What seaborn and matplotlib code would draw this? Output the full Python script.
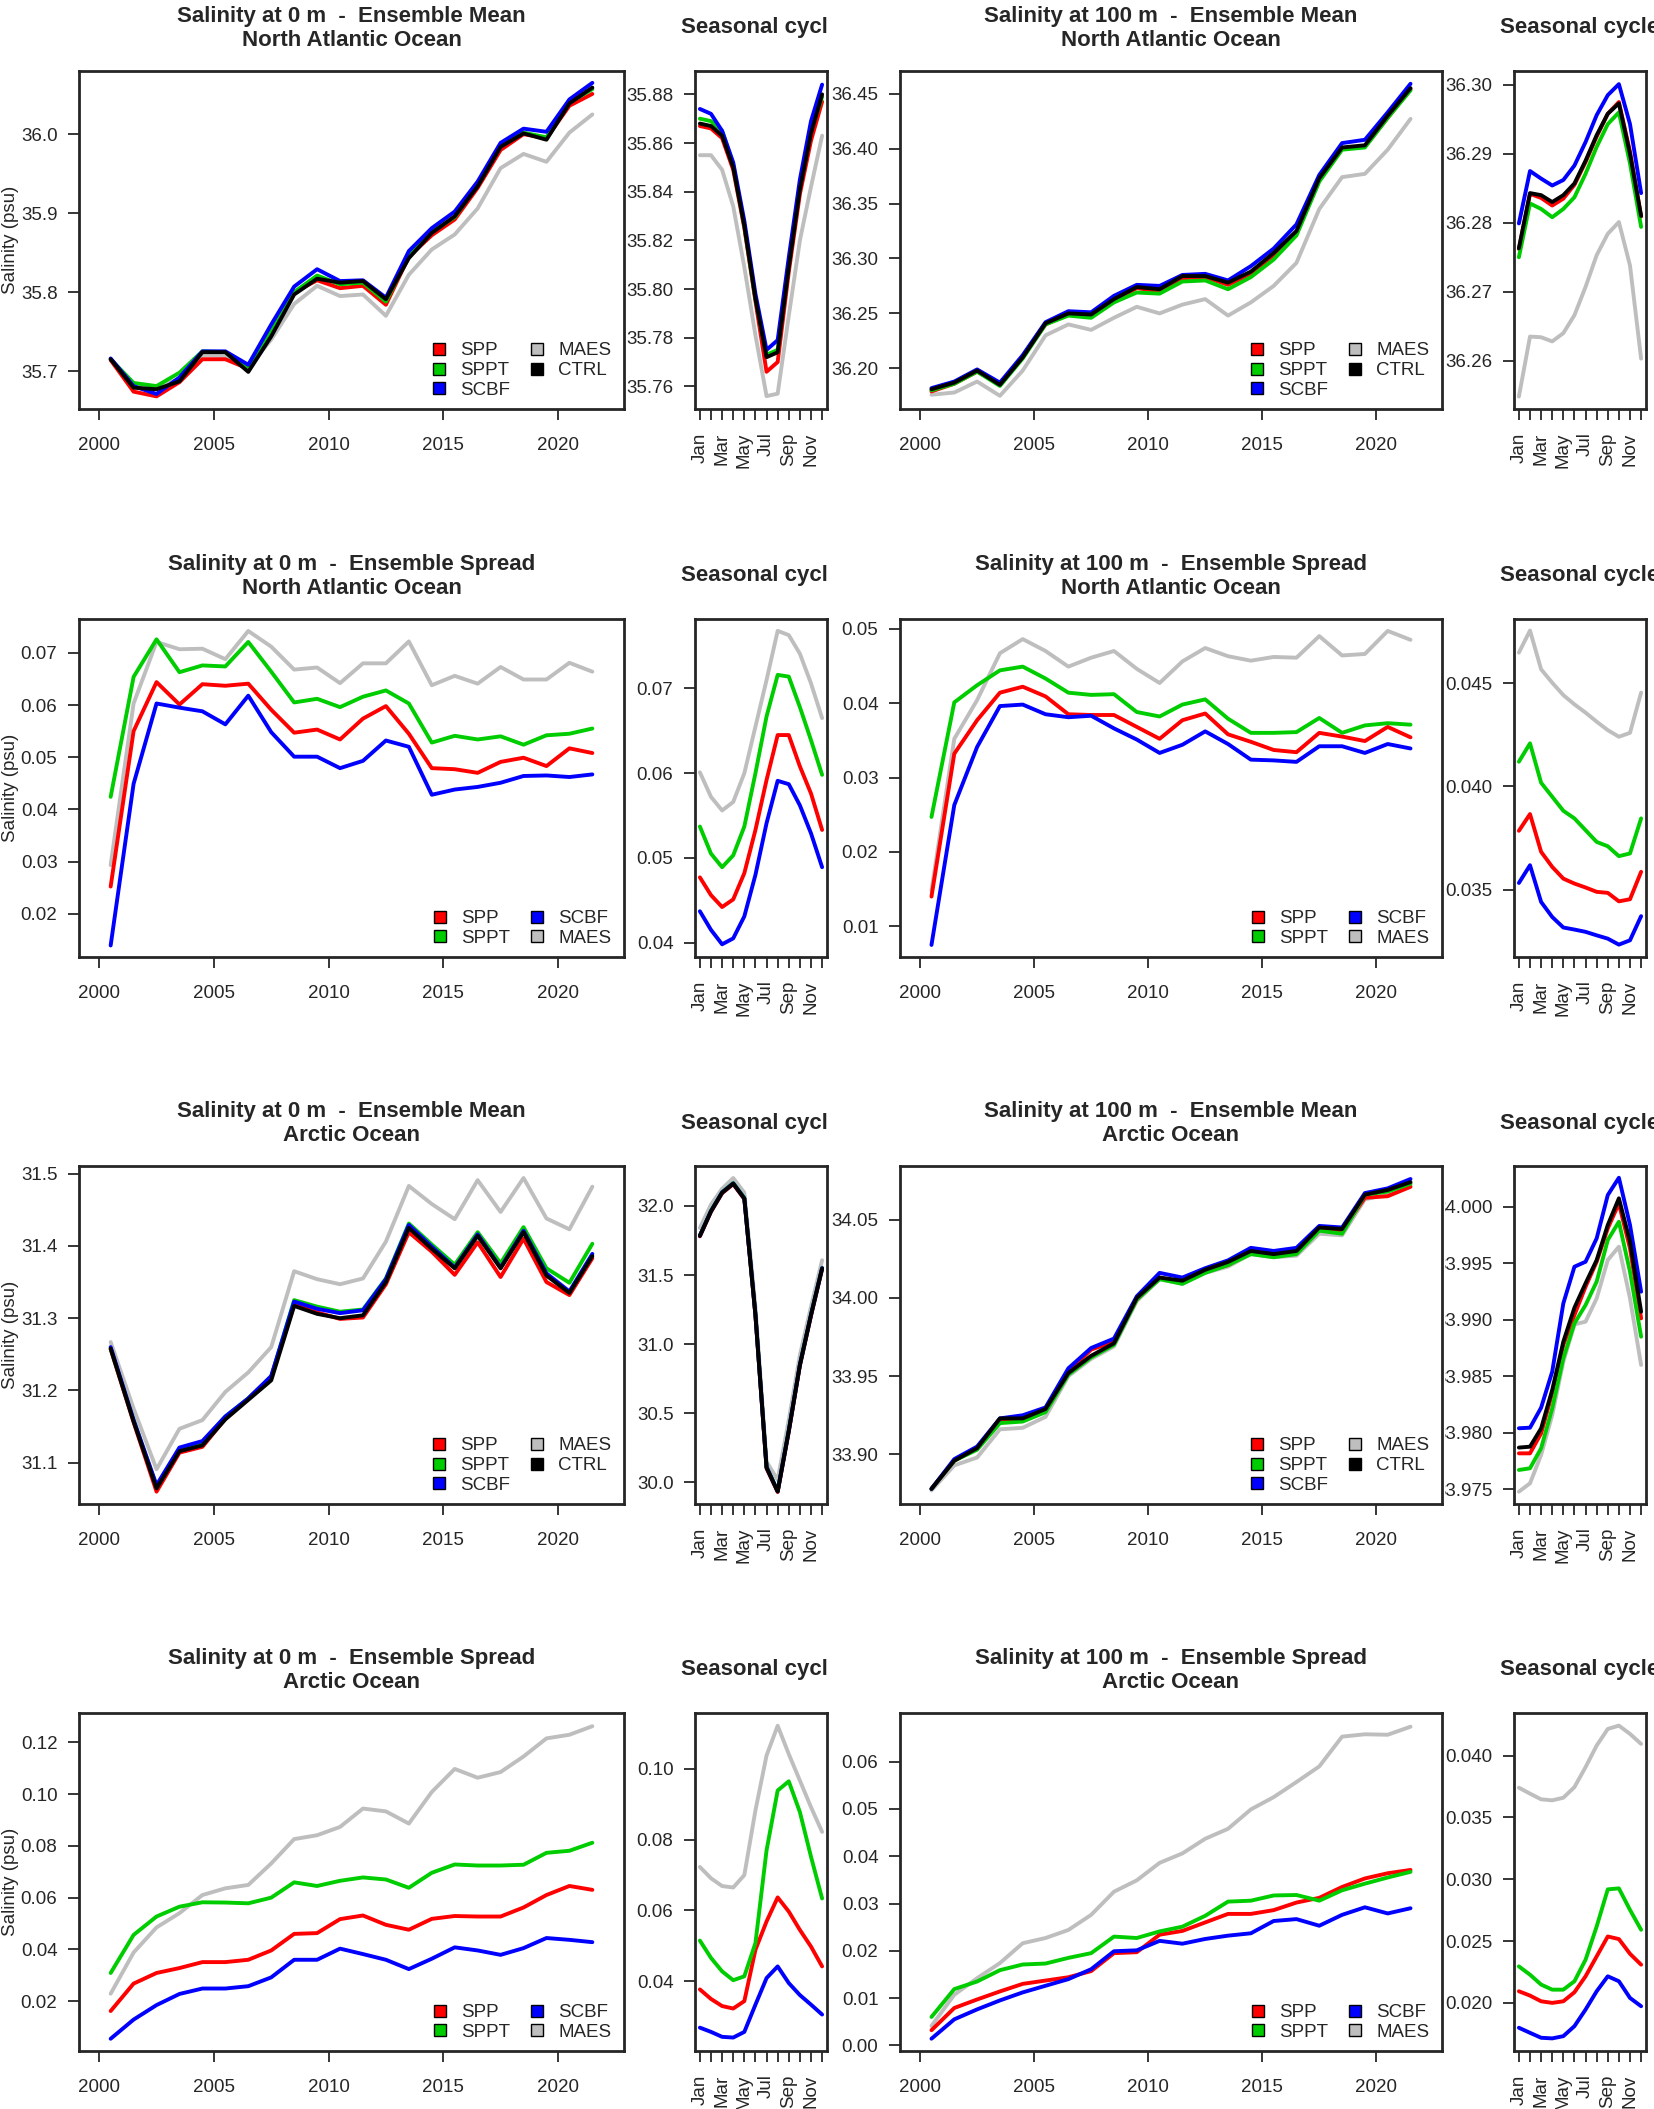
import numpy as np
import pandas as pd
import matplotlib
matplotlib.use("Agg")
import matplotlib.pyplot as plt
from matplotlib.lines import Line2D
from matplotlib.transforms import Bbox, TransformedBbox
import seaborn as sns

# ---- data ----
years = np.arange(2000, 2022) + 0.5
months = np.arange(1, 13)
month_labels = ["Jan", "", "Mar", "", "May", "", "Jul", "", "Sep", "", "Nov", ""]
year_ticks = [2000, 2005, 2010, 2015, 2020]

colors = {"SPP": "#FF0000", "SPPT": "#00CD00", "SCBF": "#0000FF",
          "MAES": "#BEBEBE", "CTRL": "#000000"}
legend_mean = ["SPP", "SPPT", "SCBF", "MAES", "CTRL"]
legend_spread = ["SPP", "SPPT", "SCBF", "MAES"]

# North Atlantic, 0 m, ensemble mean
na_0m_mean = {
    "SPP":  [35.714, 35.674, 35.668, 35.686, 35.715, 35.715, 35.703, 35.748, 35.800, 35.815, 35.805,
             35.808, 35.784, 35.845, 35.872, 35.892, 35.932, 35.980, 36.000, 35.995, 36.036, 36.051],
    "SPPT": [35.715, 35.685, 35.681, 35.698, 35.725, 35.724, 35.702, 35.752, 35.800, 35.821, 35.810,
             35.812, 35.788, 35.846, 35.876, 35.895, 35.936, 35.985, 36.002, 35.996, 36.040, 36.057],
    "SCBF": [35.716, 35.681, 35.671, 35.692, 35.725, 35.725, 35.708, 35.759, 35.807, 35.829, 35.814,
             35.815, 35.793, 35.852, 35.881, 35.902, 35.940, 35.989, 36.007, 36.003, 36.044, 36.065],
    "MAES": [35.715, 35.681, 35.680, 35.690, 35.720, 35.719, 35.704, 35.740, 35.785, 35.808, 35.795,
             35.797, 35.770, 35.822, 35.854, 35.873, 35.906, 35.957, 35.975, 35.965, 36.002, 36.025],
    "CTRL": [35.715, 35.679, 35.677, 35.687, 35.724, 35.724, 35.699, 35.744, 35.797, 35.817, 35.812,
             35.814, 35.791, 35.843, 35.875, 35.896, 35.934, 35.984, 36.001, 35.993, 36.039, 36.059],
}
na_0m_mean_cycle = {
    "SPP":  [35.867, 35.866, 35.862, 35.849, 35.825, 35.795, 35.766, 35.770, 35.807, 35.839, 35.861, 35.877],
    "SPPT": [35.870, 35.869, 35.865, 35.851, 35.826, 35.796, 35.773, 35.775, 35.810, 35.842, 35.865, 35.879],
    "SCBF": [35.874, 35.872, 35.865, 35.852, 35.828, 35.798, 35.775, 35.779, 35.813, 35.845, 35.869, 35.884],
    "MAES": [35.855, 35.855, 35.849, 35.834, 35.809, 35.781, 35.756, 35.757, 35.789, 35.820, 35.842, 35.863],
    "CTRL": [35.868, 35.867, 35.863, 35.850, 35.826, 35.796, 35.772, 35.774, 35.809, 35.841, 35.864, 35.880],
}

# North Atlantic, 100 m, ensemble mean
na_100m_mean = {
    "SPP":  [36.179, 36.186, 36.197, 36.186, 36.211, 36.240, 36.249, 36.248, 36.262, 36.273, 36.270,
             36.282, 36.283, 36.276, 36.286, 36.303, 36.323, 36.371, 36.400, 36.402, 36.428, 36.454],
    "SPPT": [36.180, 36.186, 36.197, 36.184, 36.209, 36.240, 36.248, 36.246, 36.260, 36.269, 36.268,
             36.279, 36.280, 36.272, 36.283, 36.299, 36.321, 36.370, 36.399, 36.401, 36.428, 36.453],
    "SCBF": [36.182, 36.188, 36.199, 36.187, 36.212, 36.242, 36.252, 36.251, 36.266, 36.276, 36.275,
             36.285, 36.286, 36.280, 36.293, 36.309, 36.331, 36.376, 36.405, 36.408, 36.433, 36.459],
    "MAES": [36.176, 36.178, 36.188, 36.175, 36.198, 36.230, 36.240, 36.235, 36.246, 36.256, 36.250,
             36.258, 36.263, 36.248, 36.260, 36.275, 36.296, 36.345, 36.374, 36.377, 36.399, 36.427],
    "CTRL": [36.181, 36.187, 36.198, 36.185, 36.210, 36.241, 36.250, 36.249, 36.263, 36.274, 36.272,
             36.284, 36.284, 36.278, 36.288, 36.305, 36.325, 36.373, 36.401, 36.403, 36.430, 36.455],
}
na_100m_mean_cycle = {
    "SPP":  [36.2762, 36.2842, 36.2836, 36.2825, 36.2835, 36.2855, 36.2888, 36.2925, 36.2958, 36.2975, 36.2903, 36.2809],
    "SPPT": [36.2750, 36.2828, 36.2820, 36.2808, 36.2820, 36.2837, 36.2871, 36.2910, 36.2943, 36.2960, 36.2886, 36.2794],
    "SCBF": [36.2799, 36.2875, 36.2864, 36.2854, 36.2862, 36.2883, 36.2917, 36.2956, 36.2985, 36.3001, 36.2943, 36.2843],
    "MAES": [36.2548, 36.2635, 36.2634, 36.2628, 36.2640, 36.2666, 36.2707, 36.2753, 36.2784, 36.2801, 36.2738, 36.2603],
    "CTRL": [36.2763, 36.2843, 36.2840, 36.2830, 36.2840, 36.2857, 36.2890, 36.2927, 36.2958, 36.2973, 36.2900, 36.2810],
}

# North Atlantic, 0 m, ensemble spread
na_0m_spread = {
    "SPP":  [0.0252, 0.0550, 0.0644, 0.0601, 0.0640, 0.0637, 0.0641, 0.0591, 0.0547, 0.0553, 0.0534,
             0.0574, 0.0598, 0.0545, 0.0479, 0.0477, 0.0470, 0.0491, 0.0499, 0.0483, 0.0517, 0.0508],
    "SPPT": [0.0424, 0.0654, 0.0726, 0.0663, 0.0676, 0.0674, 0.0721, 0.0664, 0.0605, 0.0612, 0.0596,
             0.0616, 0.0628, 0.0603, 0.0528, 0.0541, 0.0534, 0.0540, 0.0524, 0.0542, 0.0545, 0.0555],
    "SCBF": [0.0139, 0.0449, 0.0603, 0.0595, 0.0588, 0.0563, 0.0618, 0.0548, 0.0501, 0.0501, 0.0479,
             0.0493, 0.0532, 0.0520, 0.0428, 0.0438, 0.0443, 0.0451, 0.0464, 0.0465, 0.0462, 0.0467],
    "MAES": [0.0293, 0.0603, 0.0721, 0.0707, 0.0708, 0.0688, 0.0742, 0.0712, 0.0668, 0.0672, 0.0642,
             0.0680, 0.0680, 0.0722, 0.0638, 0.0656, 0.0641, 0.0673, 0.0649, 0.0649, 0.0681, 0.0664],
}
na_0m_spread_cycle = {
    "SPP":  [0.0477, 0.0456, 0.0442, 0.0451, 0.0482, 0.0533, 0.0592, 0.0645, 0.0645, 0.0608, 0.0576, 0.0533],
    "SPPT": [0.0537, 0.0505, 0.0489, 0.0503, 0.0537, 0.0600, 0.0667, 0.0716, 0.0714, 0.0678, 0.0639, 0.0598],
    "SCBF": [0.0437, 0.0415, 0.0398, 0.0405, 0.0431, 0.0480, 0.0541, 0.0591, 0.0587, 0.0562, 0.0529, 0.0489],
    "MAES": [0.0601, 0.0572, 0.0556, 0.0566, 0.0600, 0.0655, 0.0710, 0.0768, 0.0763, 0.0741, 0.0706, 0.0665],
}

# North Atlantic, 100 m, ensemble spread
na_100m_spread = {
    "SPP":  [0.0140, 0.0332, 0.0377, 0.0414, 0.0422, 0.0409, 0.0385, 0.0384, 0.0384, 0.0368, 0.0352,
             0.0377, 0.0386, 0.0358, 0.0348, 0.0337, 0.0334, 0.0360, 0.0355, 0.0349, 0.0368, 0.0354],
    "SPPT": [0.0247, 0.0401, 0.0424, 0.0444, 0.0449, 0.0433, 0.0414, 0.0411, 0.0412, 0.0388, 0.0382,
             0.0398, 0.0405, 0.0379, 0.0360, 0.0360, 0.0361, 0.0380, 0.0360, 0.0370, 0.0373, 0.0371],
    "SCBF": [0.0075, 0.0263, 0.0341, 0.0396, 0.0398, 0.0385, 0.0381, 0.0383, 0.0366, 0.0351, 0.0333,
             0.0344, 0.0362, 0.0345, 0.0324, 0.0323, 0.0321, 0.0342, 0.0342, 0.0333, 0.0345, 0.0339],
    "MAES": [0.0148, 0.0352, 0.0404, 0.0467, 0.0486, 0.0470, 0.0449, 0.0461, 0.0470, 0.0446, 0.0427,
             0.0456, 0.0474, 0.0463, 0.0457, 0.0462, 0.0461, 0.0490, 0.0464, 0.0466, 0.0497, 0.0485],
}
na_100m_spread_cycle = {
    "SPP":  [0.03785, 0.03866, 0.03683, 0.03610, 0.03553, 0.03529, 0.03510, 0.03489, 0.03484, 0.03443, 0.03453, 0.03586],
    "SPPT": [0.04120, 0.04209, 0.04018, 0.03950, 0.03882, 0.03845, 0.03788, 0.03731, 0.03710, 0.03662, 0.03675, 0.03845],
    "SCBF": [0.03532, 0.03618, 0.03440, 0.03367, 0.03316, 0.03306, 0.03295, 0.03278, 0.03262, 0.03233, 0.03254, 0.03371],
    "MAES": [0.04649, 0.04756, 0.04568, 0.04503, 0.04443, 0.04398, 0.04358, 0.04314, 0.04273, 0.04241, 0.04260, 0.04455],
}

# Arctic, 0 m, ensemble mean
ar_0m_mean = {
    "SPP":  [31.257, 31.156, 31.060, 31.114, 31.122, 31.161, 31.189, 31.219, 31.319, 31.308, 31.299,
             31.301, 31.347, 31.419, 31.392, 31.360, 31.405, 31.357, 31.410, 31.350, 31.332, 31.383],
    "SPPT": [31.258, 31.159, 31.067, 31.120, 31.128, 31.164, 31.189, 31.219, 31.325, 31.316, 31.309,
             31.312, 31.355, 31.431, 31.402, 31.374, 31.419, 31.376, 31.426, 31.369, 31.349, 31.403],
    "SCBF": [31.260, 31.159, 31.069, 31.121, 31.130, 31.164, 31.189, 31.220, 31.323, 31.313, 31.307,
             31.311, 31.354, 31.429, 31.399, 31.370, 31.416, 31.370, 31.421, 31.362, 31.337, 31.389],
    "MAES": [31.267, 31.175, 31.091, 31.147, 31.159, 31.198, 31.225, 31.260, 31.365, 31.354, 31.347,
             31.355, 31.406, 31.483, 31.458, 31.437, 31.491, 31.447, 31.494, 31.438, 31.423, 31.482],
    "CTRL": [31.258, 31.157, 31.0645, 31.116, 31.124, 31.160, 31.187, 31.214, 31.317, 31.306, 31.300,
             31.304, 31.350, 31.425, 31.396, 31.369, 31.414, 31.369, 31.419, 31.359, 31.335, 31.386],
}
ar_0m_mean_cycle = {
    "SPP":  [31.780, 31.958, 32.092, 32.158, 32.050, 31.205, 30.100, 29.930, 30.365, 30.843, 31.205, 31.543],
    "SPPT": [31.787, 31.965, 32.100, 32.166, 32.058, 31.216, 30.112, 29.938, 30.377, 30.853, 31.215, 31.552],
    "SCBF": [31.785, 31.963, 32.098, 32.163, 32.055, 31.213, 30.109, 29.935, 30.374, 30.851, 31.212, 31.550],
    "MAES": [31.841, 32.010, 32.125, 32.202, 32.096, 31.270, 30.149, 30.017, 30.451, 30.920, 31.270, 31.607],
    "CTRL": [31.783, 31.961, 32.096, 32.161, 32.053, 31.210, 30.106, 29.933, 30.371, 30.848, 31.210, 31.547],
}

# Arctic, 100 m, ensemble mean
ar_100m_mean = {
    "SPP":  [33.878, 33.896, 33.904, 33.922, 33.923, 33.929, 33.953, 33.967, 33.972, 33.999, 34.013,
             34.010, 34.017, 34.021, 34.029, 34.027, 34.029, 34.044, 34.043, 34.064, 34.065, 34.071],
    "SPPT": [33.878, 33.896, 33.903, 33.920, 33.921, 33.927, 33.951, 33.962, 33.970, 33.999, 34.012,
             34.009, 34.016, 34.021, 34.028, 34.026, 34.028, 34.043, 34.041, 34.066, 34.068, 34.073],
    "SCBF": [33.878, 33.897, 33.905, 33.923, 33.925, 33.930, 33.955, 33.968, 33.974, 34.001, 34.016,
             34.013, 34.019, 34.024, 34.032, 34.030, 34.032, 34.046, 34.045, 34.067, 34.070, 34.076],
    "MAES": [33.877, 33.893, 33.898, 33.916, 33.917, 33.924, 33.950, 33.961, 33.969, 33.998, 34.012,
             34.009, 34.016, 34.020, 34.028, 34.026, 34.027, 34.041, 34.040, 34.063, 34.066, 34.072],
    "CTRL": [33.878, 33.896, 33.904, 33.923, 33.923, 33.929, 33.952, 33.963, 33.971, 34.000, 34.013,
             34.011, 34.018, 34.023, 34.030, 34.028, 34.030, 34.045, 34.044, 34.066, 34.069, 34.074],
}
ar_100m_mean_cycle = {
    "SPP":  [33.97818, 33.97818, 33.97995, 33.98350, 33.98777, 33.99042, 33.99292, 33.99513, 33.99808, 34.00029, 33.99631, 33.99012],
    "SPPT": [33.97671, 33.97686, 33.97863, 33.98216, 33.98659, 33.98968, 33.99130, 33.99337, 33.99705, 33.99867, 33.99425, 33.98850],
    "SCBF": [33.98040, 33.98045, 33.98222, 33.98541, 33.99145, 33.99469, 33.99513, 33.99720, 34.00103, 34.00256, 33.99838, 33.99248],
    "MAES": [33.97479, 33.97553, 33.97804, 33.98157, 33.98629, 33.98959, 33.98983, 33.99189, 33.99528, 33.99646, 33.99189, 33.98600],
    "CTRL": [33.97869, 33.97877, 33.98039, 33.98379, 33.98806, 33.99107, 33.99322, 33.99528, 33.99838, 34.00074, 33.99690, 33.99071],
}

# Arctic, 0 m, ensemble spread
ar_0m_spread = {
    "SPP":  [0.0162, 0.0268, 0.0309, 0.0328, 0.0351, 0.0351, 0.0360, 0.0396, 0.0460, 0.0463, 0.0517,
             0.0531, 0.0495, 0.0476, 0.0518, 0.0529, 0.0527, 0.0527, 0.0562, 0.0610, 0.0645, 0.0630],
    "SPPT": [0.0309, 0.0456, 0.0527, 0.0565, 0.0582, 0.0581, 0.0578, 0.0600, 0.0659, 0.0645, 0.0665,
             0.0678, 0.0670, 0.0638, 0.0696, 0.0728, 0.0724, 0.0724, 0.0727, 0.0773, 0.0781, 0.0812],
    "SCBF": [0.0055, 0.0129, 0.0185, 0.0228, 0.0249, 0.0249, 0.0258, 0.0292, 0.0360, 0.0360, 0.0403,
             0.0382, 0.0360, 0.0324, 0.0364, 0.0408, 0.0396, 0.0379, 0.0405, 0.0444, 0.0437, 0.0428],
    "MAES": [0.0229, 0.0388, 0.0485, 0.0540, 0.0610, 0.0636, 0.0649, 0.0732, 0.0826, 0.0841, 0.0873,
             0.0944, 0.0933, 0.0886, 0.1008, 0.1097, 0.1063, 0.1085, 0.1145, 0.1215, 0.1229, 0.1262],
}
ar_0m_spread_cycle = {
    "SPP":  [0.0377, 0.0350, 0.0330, 0.0323, 0.0344, 0.0489, 0.0569, 0.0637, 0.0597, 0.0545, 0.0498, 0.0442],
    "SPPT": [0.0515, 0.0466, 0.0428, 0.0403, 0.0414, 0.0508, 0.0770, 0.0939, 0.0965, 0.0878, 0.0752, 0.0634],
    "SCBF": [0.0269, 0.0257, 0.0243, 0.0241, 0.0257, 0.0334, 0.0409, 0.0442, 0.0395, 0.0361, 0.0334, 0.0306],
    "MAES": [0.0723, 0.0691, 0.0669, 0.0665, 0.0700, 0.0883, 0.1038, 0.1122, 0.1042, 0.0967, 0.0892, 0.0822],
}

# Arctic, 100 m, ensemble spread
ar_100m_spread = {
    "SPP":  [0.0032, 0.0079, 0.0097, 0.0114, 0.0130, 0.0137, 0.0144, 0.0157, 0.0195, 0.0197, 0.0234,
             0.0242, 0.0260, 0.0278, 0.0278, 0.0286, 0.0302, 0.0312, 0.0335, 0.0353, 0.0364, 0.0371],
    "SPPT": [0.0060, 0.0119, 0.0135, 0.0159, 0.0171, 0.0173, 0.0185, 0.0195, 0.0230, 0.0227, 0.0241,
             0.0251, 0.0274, 0.0304, 0.0306, 0.0317, 0.0318, 0.0306, 0.0328, 0.0342, 0.0355, 0.0367],
    "SCBF": [0.0014, 0.0055, 0.0076, 0.0095, 0.0112, 0.0126, 0.0140, 0.0161, 0.0199, 0.0201, 0.0221,
             0.0215, 0.0225, 0.0232, 0.0237, 0.0263, 0.0267, 0.0253, 0.0276, 0.0292, 0.0279, 0.0290],
    "MAES": [0.0041, 0.0107, 0.0142, 0.0174, 0.0216, 0.0227, 0.0244, 0.0276, 0.0325, 0.0349, 0.0386,
             0.0406, 0.0437, 0.0458, 0.0499, 0.0525, 0.0557, 0.0590, 0.0653, 0.0658, 0.0657, 0.0674],
}
ar_100m_spread_cycle = {
    "SPP":  [0.02094, 0.02059, 0.02013, 0.02000, 0.02013, 0.02086, 0.02215, 0.02376, 0.02537, 0.02516, 0.02397, 0.02309],
    "SPPT": [0.02295, 0.02228, 0.02148, 0.02107, 0.02107, 0.02175, 0.02349, 0.02618, 0.02918, 0.02926, 0.02752, 0.02591],
    "SCBF": [0.01799, 0.01758, 0.01718, 0.01713, 0.01731, 0.01812, 0.01946, 0.02094, 0.02215, 0.02175, 0.02040, 0.01973],
    "MAES": [0.03740, 0.03692, 0.03646, 0.03638, 0.03659, 0.03745, 0.03906, 0.04081, 0.04215, 0.04242, 0.04175, 0.04094],
}

# ---- figure ----
sns.set_style("ticks")
plt.rcParams["font.family"] = ["Liberation Sans", "DejaVu Sans"]

W, H = 1654, 2109
fig = plt.figure(figsize=(W / 100, H / 100), dpi=100)


def px_axes(x0, y0, w, h):
    return fig.add_axes([x0 / W, 1 - (y0 + h) / H, w / W, h / H])


def clip_region(x0, x1):
    return TransformedBbox(Bbox([[x0 / W, 0], [x1 / W, 1]]), fig.transFigure)


def draw_lines(ax, xs, data):
    order = [r for r in ["MAES", "SPP", "SPPT", "SCBF", "CTRL"] if r in data]
    df = pd.DataFrame([(x, r, v) for r in order for x, v in zip(xs, data[r])],
                      columns=["x", "run", "value"])
    sns.lineplot(data=df, x="x", y="value", hue="run", hue_order=order,
                 palette=colors, lw=2.8, legend=False, errorbar=None, ax=ax)
    ax.set_xlabel("")
    ax.set_ylabel("")
    for s in ax.spines.values():
        s.set_linewidth(2.0)
    ax.tick_params(direction="out", length=8, width=1.3, labelsize=13.5, pad=7.5)


def big_panel(ax, data, title, ylim, yticks, fmt, legend_runs, ylabel):
    draw_lines(ax, years, data)
    ax.set_xlim(1999.12, 2022.88)
    ax.set_ylim(*ylim)
    ax.set_xticks(year_ticks)
    ax.set_yticks(yticks, [fmt.format(t) for t in yticks])
    ax.tick_params(axis="x", pad=12)
    ax.set_title(title, fontsize=16, fontweight="bold", pad=18, linespacing=1.2)
    if ylabel:
        ax.set_ylabel("Salinity (psu)", fontsize=13.5)
        ax.yaxis.set_label_coords(-0.111, 0.5)
    handles = [Line2D([], [], marker="s", linestyle="none", markersize=9,
                      markerfacecolor=colors[r], markeredgecolor="black",
                      markeredgewidth=1.0, label=r) for r in legend_runs]
    ax.legend(handles=handles, ncol=2, loc="lower right", bbox_to_anchor=(0.977, 0.03),
              frameon=False, fontsize=13.5, handlelength=0.8, handletextpad=0.75,
              columnspacing=1.0, labelspacing=0.14, borderpad=0, borderaxespad=0)


def cycle_panel(ax, data, ylim, yticks, fmt, clip):
    draw_lines(ax, months, data)
    ax.set_xlim(0.56, 12.44)
    ax.set_ylim(*ylim)
    ax.set_xticks(months, month_labels, rotation=90)
    ax.set_yticks(yticks, [fmt.format(t) for t in yticks])
    ax.tick_params(axis="x", pad=9)
    t = ax.set_title("Seasonal cycle", fontsize=16, fontweight="bold", pad=27)
    t.set_clip_box(clip)
    t.set_clip_on(True)
    for lab in ax.get_yticklabels():
        lab.set_clip_box(clip)
        lab.set_clip_on(True)


row_tops = [71, 619, 1166, 1713]
box_h = 338

rows = [
    dict(left=(na_0m_mean, "Salinity at 0 m  -  Ensemble Mean\nNorth Atlantic Ocean",
               (35.652, 36.080), [35.7, 35.8, 35.9, 36.0], "{:.1f}", legend_mean),
         lcyc=(na_0m_mean_cycle, (35.7507, 35.8896), [35.76, 35.78, 35.80, 35.82, 35.84, 35.86, 35.88], "{:.2f}"),
         right=(na_100m_mean, "Salinity at 100 m  -  Ensemble Mean\nNorth Atlantic Ocean",
                (36.163, 36.4706), [36.20, 36.25, 36.30, 36.35, 36.40, 36.45], "{:.2f}", legend_mean),
         rcyc=(na_100m_mean_cycle, (36.253, 36.302), [36.26, 36.27, 36.28, 36.29, 36.30], "{:.2f}")),
    dict(left=(na_0m_spread, "Salinity at 0 m  -  Ensemble Spread\nNorth Atlantic Ocean",
               (0.01169, 0.0765), [0.02, 0.03, 0.04, 0.05, 0.06, 0.07], "{:.2f}", legend_spread),
         lcyc=(na_0m_spread_cycle, (0.0383, 0.0782), [0.04, 0.05, 0.06, 0.07], "{:.2f}"),
         right=(na_100m_spread, "Salinity at 100 m  -  Ensemble Spread\nNorth Atlantic Ocean",
                (0.00588, 0.0513), [0.01, 0.02, 0.03, 0.04, 0.05], "{:.2f}", legend_spread),
         rcyc=(na_100m_spread_cycle, (0.03173, 0.04812), [0.035, 0.040, 0.045], "{:.3f}")),
    dict(left=(ar_0m_mean, "Salinity at 0 m  -  Ensemble Mean\nArctic Ocean",
               (31.0429, 31.5106), [31.1, 31.2, 31.3, 31.4, 31.5], "{:.1f}", legend_mean),
         lcyc=(ar_0m_mean_cycle, (29.843, 32.289), [30.0, 30.5, 31.0, 31.5, 32.0], "{:.1f}"),
         right=(ar_100m_mean, "Salinity at 100 m  -  Ensemble Mean\nArctic Ocean",
                (33.8683, 34.0843), [33.90, 33.95, 34.00, 34.05], "{:.2f}", legend_mean),
         rcyc=(ar_100m_mean_cycle, (33.9737, 34.0036), [33.975, 33.980, 33.985, 33.990, 33.995, 34.000], "{:.3f}")),
    dict(left=(ar_0m_spread, "Salinity at 0 m  -  Ensemble Spread\nArctic Ocean",
               (0.00077, 0.1313), [0.02, 0.04, 0.06, 0.08, 0.10, 0.12], "{:.2f}", legend_spread),
         lcyc=(ar_0m_spread_cycle, (0.0203, 0.1158), [0.04, 0.06, 0.08, 0.10], "{:.2f}"),
         right=(ar_100m_spread, "Salinity at 100 m  -  Ensemble Spread\nArctic Ocean",
                (-0.0012, 0.0703), [0.00, 0.01, 0.02, 0.03, 0.04, 0.05, 0.06], "{:.2f}", legend_spread),
         rcyc=(ar_100m_spread_cycle, (0.01611, 0.04344), [0.020, 0.025, 0.030, 0.035, 0.040], "{:.3f}")),
]

# the seasonal panels are clipped at their own figure region, as in the original layout
clip_left = clip_region(625, 828)
clip_right = clip_region(1445, 1654)

for top, spec in zip(row_tops, rows):
    ax = px_axes(79, top, 545, box_h)
    big_panel(ax, *spec["left"], ylabel=True)
    ax = px_axes(695, top, 132, box_h)
    cycle_panel(ax, *spec["lcyc"], clip=clip_left)
    ax = px_axes(900, top, 542, box_h)
    big_panel(ax, *spec["right"], ylabel=False)
    ax = px_axes(1514, top, 132, box_h)
    cycle_panel(ax, *spec["rcyc"], clip=clip_right)

fig.savefig("out.png", dpi=100)
